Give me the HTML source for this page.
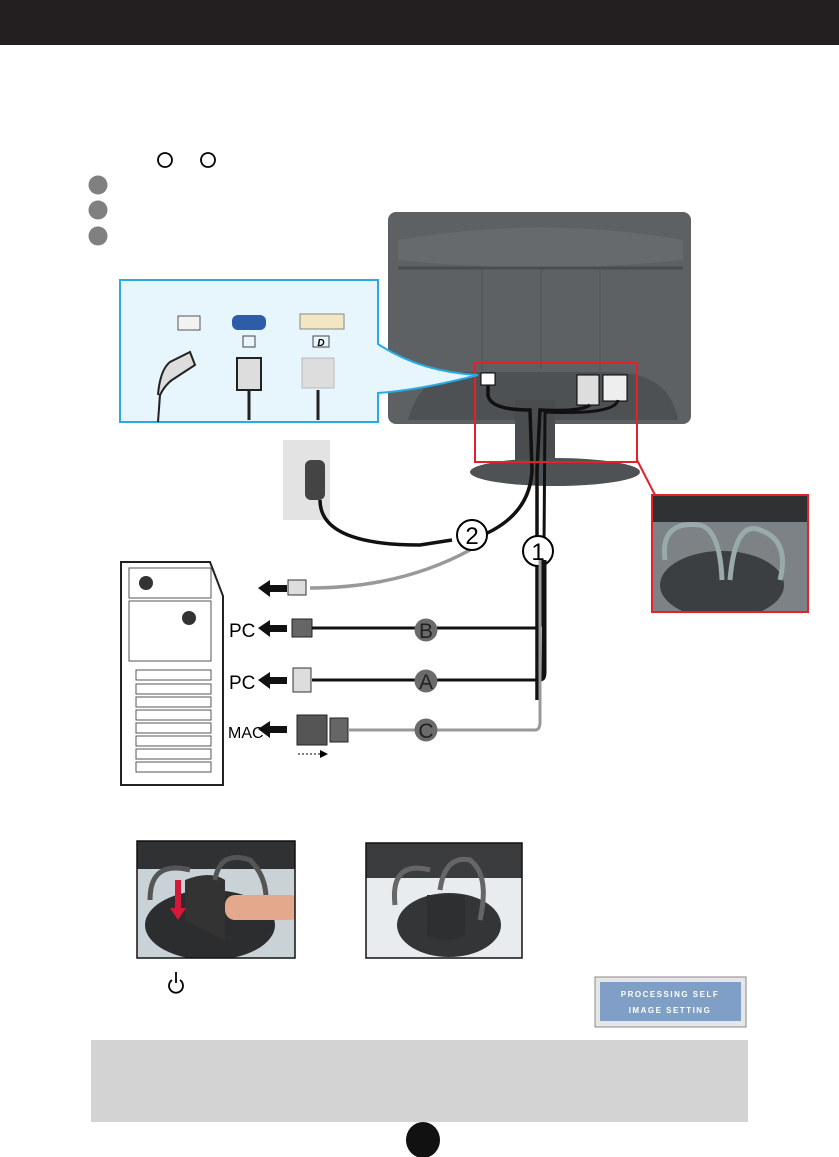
<!DOCTYPE html>
<html><head><meta charset="utf-8"><style>
html,body{margin:0;padding:0;background:#fff;width:839px;height:1157px;overflow:hidden;font-family:"Liberation Sans",sans-serif}
</style></head><body>
<svg width="839" height="1157" viewBox="0 0 839 1157" xmlns="http://www.w3.org/2000/svg" font-family="Liberation Sans, sans-serif">
<defs>
<clipPath id="p1"><rect x="137" y="841" width="158" height="117"/></clipPath>
<clipPath id="p2"><rect x="366" y="843" width="156" height="115"/></clipPath>
<clipPath id="p3"><rect x="652" y="495" width="156" height="117"/></clipPath>
</defs>
<rect x="0" y="0" width="839" height="45" fill="#231f20"/>
<circle cx="165" cy="160" r="7" fill="none" stroke="#000" stroke-width="1.8"/>
<circle cx="208" cy="160" r="7" fill="none" stroke="#000" stroke-width="1.8"/>
<circle cx="98" cy="185" r="9.5" fill="#808080"/>
<circle cx="98" cy="210" r="9.5" fill="#808080"/>
<circle cx="98" cy="236" r="9.5" fill="#808080"/>

<!-- monitor back -->
<rect x="388" y="212" width="303" height="212" rx="8" fill="#5d6163"/>
<path d="M398 240 Q540 215 683 240 L683 260 Q540 275 398 260 Z" fill="#666a6c"/>
<line x1="398" y1="268" x2="683" y2="268" stroke="#4a4d4f" stroke-width="3"/>
<line x1="482" y1="270" x2="482" y2="370" stroke="#4f5254"/>
<line x1="541" y1="270" x2="541" y2="370" stroke="#4f5254"/>
<line x1="600" y1="270" x2="600" y2="370" stroke="#4f5254"/>
<path d="M408 420 Q420 372 470 372 L610 372 Q670 372 678 420 Z" fill="#4e5153"/>
<rect x="515" y="400" width="40" height="65" fill="#4a4d4f"/>
<ellipse cx="555" cy="472" rx="85" ry="14" fill="#4f5254"/>
<rect x="481" y="373" width="14" height="12" fill="#fff" stroke="#000"/>
<rect x="577" y="375" width="22" height="30" fill="#ddd" stroke="#000"/>
<rect x="603" y="375" width="24" height="26" fill="#eee" stroke="#000"/>
<path d="M488 385 L488 395 Q490 410 530 410 L532 470 Q530 520 470 540" fill="none" stroke="#111" stroke-width="3.5"/>
<path d="M590 405 Q580 412 540 410 L537 470 L537 700" fill="none" stroke="#111" stroke-width="3.5"/>
<path d="M618 400 Q615 415 545 412 L543 680" fill="none" stroke="#111" stroke-width="3"/>
<rect x="475" y="363" width="162" height="99" fill="none" stroke="#e5202a" stroke-width="2"/>
<line x1="637" y1="460" x2="655" y2="495" stroke="#e5202a" stroke-width="2"/>
<g clip-path="url(#p3)">
<rect x="652" y="495" width="156" height="117" fill="#7c8285"/>
<rect x="652" y="495" width="156" height="27" fill="#2f3133"/>
<ellipse cx="722" cy="585" rx="62" ry="34" fill="#3c3f41"/>
<path d="M665 560 Q660 520 700 525 Q720 530 722 580 M730 580 Q735 520 760 530 Q790 540 780 580" fill="none" stroke="#9aa" stroke-width="5"/>
</g>
<rect x="652" y="495" width="156" height="117" fill="none" stroke="#e5202a" stroke-width="2"/>

<!-- blue panel -->
<path d="M120 280 L378 280 L378 344 Q420 372 478 375 Q420 390 378 393 L378 422 L120 422 Z" fill="#e6f6fc" stroke="#29abe2" stroke-width="2"/>
<rect x="178" y="316" width="22" height="14" fill="#f2f2f2" stroke="#555"/>
<rect x="232" y="315" width="34" height="15" rx="6" fill="#2d5ca8"/>
<rect x="300" y="314" width="44" height="15" fill="#f3e6c3" stroke="#888"/>
<rect x="243" y="336" width="12" height="11" fill="none" stroke="#444"/>
<rect x="313" y="336" width="16" height="11" fill="none" stroke="#444"/>
<text x="321" y="346" font-size="10" font-weight="bold" font-style="italic" text-anchor="middle">D</text>
<path d="M158 395 Q160 370 170 362 L190 352 L195 365 L172 380 Q165 385 160 395 L158 422" fill="#ddd" stroke="#222" stroke-width="2"/>
<rect x="237" y="358" width="24" height="32" fill="#ddd" stroke="#222" stroke-width="2"/>
<line x1="249" y1="390" x2="249" y2="420" stroke="#222" stroke-width="3"/>
<rect x="302" y="358" width="32" height="30" fill="#ddd" stroke="#bbb"/>
<line x1="318" y1="390" x2="318" y2="420" stroke="#222" stroke-width="3"/>

<!-- wall outlet -->
<rect x="283" y="440" width="47" height="80" fill="#e3e3e3"/>
<rect x="305" y="460" width="20" height="40" rx="6" fill="#444"/>
<path d="M320 500 Q320 545 420 545 L452 540" fill="none" stroke="#111" stroke-width="3.5"/>
<path d="M310 588 Q400 588 470 550" fill="none" stroke="#999" stroke-width="3.5"/>
<circle cx="472" cy="535" r="15" fill="#fff" stroke="#000" stroke-width="2"/>
<text x="472" y="544" font-size="24" text-anchor="middle">2</text>
<circle cx="538" cy="551" r="15" fill="#fff" stroke="#000" stroke-width="2"/>
<text x="538" y="560" font-size="24" text-anchor="middle">1</text>

<!-- PC tower -->
<path d="M121 562 L210 562 L223 596 L223 785 L121 785 Z" fill="#fff" stroke="#222" stroke-width="2"/>
<rect x="129" y="568" width="82" height="30" fill="none" stroke="#555"/>
<rect x="129" y="601" width="82" height="60" fill="none" stroke="#555"/>
<g fill="none" stroke="#555">
<rect x="136" y="670" width="75" height="10"/><rect x="136" y="684" width="75" height="10"/><rect x="136" y="697" width="75" height="10"/><rect x="136" y="710" width="75" height="10"/><rect x="136" y="723" width="75" height="10"/><rect x="136" y="736" width="75" height="10"/><rect x="136" y="749" width="75" height="10"/><rect x="136" y="762" width="75" height="10"/>
</g>
<circle cx="146" cy="583" r="7" fill="#333"/><circle cx="189" cy="618" r="7" fill="#333"/>

<g fill="#111">
<path d="M258 588 L270 580 L270 585 L287 585 L287 592 L270 592 L270 597 Z"/>
<path d="M258 628 L270 620 L270 625 L287 625 L287 632 L270 632 L270 637 Z"/>
<path d="M258 680 L270 672 L270 677 L287 677 L287 684 L270 684 L270 689 Z"/>
<path d="M258 729 L270 721 L270 726 L287 726 L287 733 L270 733 L270 738 Z"/>
</g>
<text x="229" y="637" font-size="19">PC</text>
<text x="229" y="689" font-size="19">PC</text>
<text x="228" y="738" font-size="16">MAC</text>
<rect x="288" y="580" width="18" height="15" fill="#ddd" stroke="#333"/>
<rect x="292" y="619" width="20" height="18" fill="#666" stroke="#222"/>
<rect x="293" y="668" width="18" height="24" fill="#ddd" stroke="#333"/>
<rect x="297" y="715" width="30" height="30" fill="#555" stroke="#222"/>
<rect x="330" y="718" width="18" height="24" fill="#666" stroke="#222"/>
<path d="M312 628 L535 628 Q542 628 542 620 L542 560" fill="none" stroke="#111" stroke-width="3"/>
<path d="M312 680 L540 680 Q545 680 545 672 L545 560" fill="none" stroke="#111" stroke-width="3"/>
<path d="M348 730 L535 730 Q540 730 540 722 L540 560" fill="none" stroke="#999" stroke-width="3"/>
<circle cx="426" cy="630" r="11.5" fill="#6b6b6b"/><text x="426" y="638" font-size="21" text-anchor="middle" fill="#222">B</text>
<circle cx="426" cy="681" r="11.5" fill="#6b6b6b"/><text x="426" y="689" font-size="21" text-anchor="middle" fill="#222">A</text>
<circle cx="426" cy="730" r="11.5" fill="#6b6b6b"/><text x="426" y="738" font-size="21" text-anchor="middle" fill="#222">C</text>
<path d="M298 754 L320 754" stroke="#000" stroke-dasharray="2 2"/><path d="M320 750 L328 754 L320 758 Z"/>

<!-- photos -->
<g clip-path="url(#p1)">
<rect x="137" y="841" width="158" height="117" fill="#c9d2d6"/>
<rect x="137" y="841" width="158" height="28" fill="#2f3133"/>
<ellipse cx="210" cy="925" rx="65" ry="35" fill="#2b2d2f"/>
<path d="M185 920 L185 880 Q210 870 225 880 L225 940 Z" fill="#333"/>
<path d="M150 900 Q150 860 190 870 M215 880 Q220 850 250 860 Q270 880 265 910" fill="none" stroke="#555" stroke-width="5"/>
<rect x="225" y="895" width="75" height="25" rx="10" fill="#e4a98c"/>
<rect x="175" y="880" width="6" height="30" fill="#d3183a"/><path d="M170 908 L186 908 L178 920 Z" fill="#d3183a"/>
</g>
<rect x="137" y="841" width="158" height="117" fill="none" stroke="#111" stroke-width="1.5"/>
<g clip-path="url(#p2)">
<rect x="366" y="843" width="156" height="115" fill="#e9ecee"/>
<rect x="366" y="843" width="156" height="35" fill="#3a3c3e"/>
<ellipse cx="449" cy="925" rx="52" ry="32" fill="#333537"/>
<path d="M427 895 L427 935 Q445 945 465 935 L465 895 Z" fill="#2d2f31"/>
<path d="M395 905 Q390 860 430 870 M440 890 Q445 855 470 860 Q490 875 480 920" fill="none" stroke="#666" stroke-width="5"/>
</g>
<rect x="366" y="843" width="156" height="115" fill="none" stroke="#111" stroke-width="1.5"/>

<!-- power icon -->
<path d="M172 980 A7 7 0 1 0 180 980" fill="none" stroke="#000" stroke-width="1.8"/>
<line x1="176" y1="972" x2="176" y2="983" stroke="#000" stroke-width="1.8"/>

<!-- OSD -->
<rect x="595" y="977" width="151" height="50" fill="#e6e6e6" stroke="#888"/>
<rect x="600" y="982" width="141" height="39" fill="#7f9fc6"/>
<text x="670" y="997" font-size="8" font-weight="bold" fill="#fff" text-anchor="middle" letter-spacing="1.5">PROCESSING SELF</text>
<text x="670" y="1013" font-size="8" font-weight="bold" fill="#fff" text-anchor="middle" letter-spacing="1.5">IMAGE SETTING</text>

<rect x="91" y="1040" width="657" height="82" fill="#d3d3d3"/>
<ellipse cx="423" cy="1140" rx="17" ry="18" fill="#111"/>
</svg>
</body></html>
